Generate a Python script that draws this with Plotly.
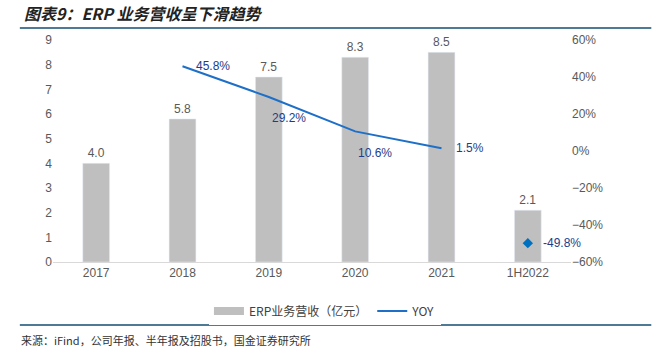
import plotly.graph_objects as go

categories = ["2017", "2018", "2019", "2020", "2021", "1H2022"]
revenue = [4.0, 5.8, 7.5, 8.3, 8.5, 2.1]
yoy_line = [None, 45.8, 29.2, 10.6, 1.5, None]
yoy_h1 = [None, None, None, None, None, -49.8]

# label offsets (pixels) for the YOY labels, per category
label_dx = [0, 30, 20, 20, 28, 34]
label_dy = [0, 0, -21, -22, 0, 0]

FONT = "Liberation Sans, Arial, Noto Sans CJK SC, sans-serif"
CJK = "Noto Sans CJK SC, Liberation Sans, sans-serif"
GRAY = "#BFBFBF"

fig = go.Figure()
fig.add_trace(go.Bar(
    x=categories, y=revenue, name="ERP业务营收（亿元）", showlegend=False,
    marker_color=GRAY, width=0.31,
    text=[f"{v:.1f}" for v in revenue], textposition="outside",
    textfont=dict(color="#595959", size=12, family=FONT),
    cliponaxis=False,
))
# legend proxy for the bars (wide swatch)
fig.add_trace(go.Scatter(
    x=[categories[0]], y=[None], name="ERP业务营收（亿元）", mode="lines",
    line=dict(color=GRAY, width=8),
))
fig.add_trace(go.Scatter(
    x=categories, y=yoy_line, name="YOY", yaxis="y2", mode="lines",
    line=dict(color="#1E6FC8", width=2),
))
fig.add_trace(go.Scatter(
    x=categories, y=yoy_h1, yaxis="y2", mode="markers", showlegend=False,
    marker=dict(symbol="diamond", size=8, color="#0070C0"),
))

for i, (a, b, dx, dy) in enumerate(zip(yoy_line, yoy_h1, label_dx, label_dy)):
    v = a if a is not None else b
    if v is None:
        continue
    fig.add_annotation(x=i, y=v, xref="x", yref="y2", text=f"{v:.1f}%",
                       showarrow=False, xshift=dx, yshift=dy,
                       font=dict(color="#1F3C88", size=12, family=FONT))

fig.update_layout(
    width=669, height=354,
    margin=dict(l=53, r=98, t=40, b=92),
    paper_bgcolor="white", plot_bgcolor="white",
    font=dict(family=FONT, color="#595959", size=12),
    xaxis=dict(type="category", categoryorder="array", categoryarray=categories,
               range=[-0.5, len(categories) - 0.5],
               showgrid=False, showline=True, linecolor="#D9D9D9",
               linewidth=1, ticks="", tickfont=dict(size=12, color="#595959")),
    yaxis=dict(range=[0, 9], dtick=1, showgrid=False, zeroline=False, showline=False,
               tickfont=dict(size=12, color="#595959")),
    yaxis2=dict(range=[-60, 60], dtick=20, overlaying="y", side="right", showgrid=False,
                zeroline=False, ticksuffix="%", tickfont=dict(size=12, color="#595959")),
    legend=dict(orientation="h", x=0.525, xanchor="center", y=-0.155, yanchor="top",
                font=dict(size=12, family=CJK, color="#404040"), itemwidth=30),
    showlegend=True,
)

fig.add_annotation(text="<b><i>图表9：ERP 业务营收呈下滑趋势</i></b>", xref="paper", yref="paper",
                   x=-0.06, y=1.0, xanchor="left", yanchor="bottom", yshift=13, showarrow=False,
                   font=dict(size=16, family=CJK, color="#222222"))
fig.add_annotation(text="来源：iFind，公司年报、半年报及招股书，国金证券研究所", xref="paper", yref="paper",
                   x=-0.065, y=0, xanchor="left", yanchor="top", yshift=-68, showarrow=False,
                   font=dict(size=11, family=CJK, color="#333333"))
fig.add_shape(type="line", xref="paper", yref="paper", x0=-0.064, x1=1.155, y0=1.054, y1=1.054,
              line=dict(color="#4F7A96", width=2))
fig.add_shape(type="line", xref="paper", yref="paper", x0=-0.064, x1=1.155, y0=-0.284, y1=-0.284,
              line=dict(color="#4F7A96", width=2))

fig.write_html("out.html")
